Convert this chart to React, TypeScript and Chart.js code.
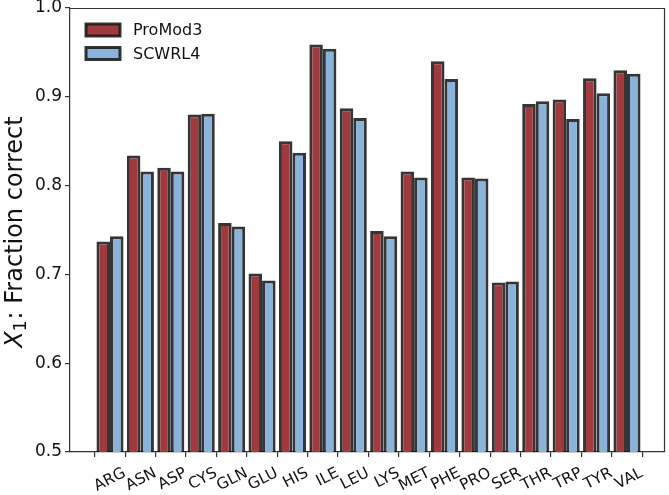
import React, { useEffect, useRef } from "react";
import { Chart, registerables } from "chart.js";

Chart.register(...registerables);

const categories = ["ARG", "ASN", "ASP", "CYS", "GLN", "GLU", "HIS", "ILE", "LEU", "LYS", "MET", "PHE", "PRO", "SER", "THR", "TRP", "TYR", "VAL"];
const promod3 = [0.737, 0.834, 0.820, 0.880, 0.758, 0.701, 0.850, 0.959, 0.887, 0.749, 0.816, 0.940, 0.809, 0.691, 0.892, 0.897, 0.921, 0.930];
const scwrl4 = [0.743, 0.816, 0.816, 0.881, 0.754, 0.693, 0.837, 0.954, 0.876, 0.743, 0.809, 0.920, 0.808, 0.692, 0.895, 0.875, 0.904, 0.926];
const seriesNames = ["ProMod3", "SCWRL4"];
const seriesColors = ["#a13a3e", "#8ab3dc"];
const yTicks = [0.5, 0.6, 0.7, 0.8, 0.9, 1.0];
const yTitleParts = ["X", "1", ": Fraction correct"];

const EDGE = "rgba(25,25,25,0.88)";
const FONT = '"DejaVu Sans", sans-serif';

const decorPlugin = {
  id: "decor",
  afterDraw(chart: any) {
    const { ctx, chartArea } = chart;
    const { left, right, top, bottom } = chartArea;
    ctx.save();
    // top & right spines
    ctx.strokeStyle = "#333";
    ctx.lineWidth = 1.2;
    ctx.beginPath();
    ctx.moveTo(left, top + 0.5);
    ctx.lineTo(right - 0.5, top + 0.5);
    ctx.lineTo(right - 0.5, bottom);
    ctx.stroke();

    // legend
    seriesNames.forEach((name, i) => {
      const bx = left + 16;
      const by = top + 16 + i * 23.5;
      ctx.fillStyle = seriesColors[i];
      ctx.fillRect(bx, by, 34, 12);
      ctx.strokeStyle = EDGE;
      ctx.lineWidth = 3;
      ctx.strokeRect(bx, by, 34, 12);
      ctx.fillStyle = "#111";
      ctx.font = `16px ${FONT}`;
      ctx.textBaseline = "middle";
      ctx.textAlign = "left";
      ctx.fillText(name, left + 63, by + 7);
    });

    // y title
    const cy = (top + bottom) / 2 + 2;
    const size = 24;
    ctx.translate(21.5, cy);
    ctx.rotate(-Math.PI / 2);
    ctx.textBaseline = "alphabetic";
    ctx.textAlign = "left";
    ctx.fillStyle = "#111";
    const fMain = `${size}px ${FONT}`;
    const fItal = `italic ${size}px ${FONT}`;
    const fSub = `${Math.round(size * 0.7)}px ${FONT}`;
    ctx.font = fItal;
    const w0 = ctx.measureText(yTitleParts[0]).width;
    ctx.font = fSub;
    const w1 = ctx.measureText(yTitleParts[1]).width;
    ctx.font = fMain;
    const w2 = ctx.measureText(yTitleParts[2]).width;
    const total = w0 + w1 + w2 + 1;
    let x = -total / 2;
    ctx.font = fItal;
    ctx.fillText(yTitleParts[0], x, 0);
    x += w0;
    ctx.font = fSub;
    ctx.fillText(yTitleParts[1], x, size * 0.2);
    x += w1 + 1;
    ctx.font = fMain;
    ctx.fillText(yTitleParts[2], x, 0);
    ctx.restore();
  },
};

export default function App() {
  const ref = useRef<HTMLCanvasElement | null>(null);
  useEffect(() => {
    if (!ref.current) return;
    const chart = new Chart(ref.current, {
      type: "bar",
      data: {
        datasets: [
          {
            label: seriesNames[0],
            data: promod3.map((v, i) => ({ x: i, y: v })),
            backgroundColor: seriesColors[0],
            borderColor: EDGE,
            borderWidth: 3,
            borderSkipped: "start",
          },
          {
            label: seriesNames[1],
            data: scwrl4.map((v, i) => ({ x: i, y: v })),
            backgroundColor: seriesColors[1],
            borderColor: EDGE,
            borderWidth: 3,
            borderSkipped: "start",
          },
        ],
      },
      options: {
        animation: false,
        responsive: false,
        devicePixelRatio: 1,
        categoryPercentage: 0.89,
        barPercentage: 1.0,
        layout: { padding: { top: 8, right: 4, left: 0, bottom: 0 } },
        plugins: {
          legend: { display: false },
          tooltip: { enabled: false },
          title: { display: false },
        },
        scales: {
          x: {
            type: "linear",
            min: -1.315,
            max: 18.25,
            offset: false,
            afterFit: (s: any) => {
              s.height = 43;
              s.paddingLeft = 0;
              s.paddingRight = 0;
            },
            afterBuildTicks: (s: any) => {
              s.ticks = categories.map((_, i) => ({ value: i }));
            },
            grid: { drawOnChartArea: false, drawTicks: true, tickLength: 5, color: "#333", lineWidth: 1.2 },
            border: { display: true, color: "#333", width: 1.2 },
            ticks: {
              autoSkip: false,
              minRotation: 27,
              maxRotation: 27,
              labelOffset: 15,
              padding: 7,
              color: "#111",
              font: { family: FONT, size: 15.5 },
              callback: (v: any) => categories[Math.round(Number(v))] ?? "",
            },
          },
          y: {
            type: "linear",
            min: 0.5,
            max: 1.0,
            afterFit: (s: any) => {
              s.width = 70;
              s.paddingTop = 0;
              s.paddingBottom = 0;
            },
            afterBuildTicks: (s: any) => {
              s.ticks = yTicks.map((v) => ({ value: v }));
            },
            grid: { drawOnChartArea: false, drawTicks: true, tickLength: 5, color: "#333", lineWidth: 1.2 },
            border: { display: true, color: "#333", width: 1.2 },
            ticks: {
              padding: 3,
              color: "#111",
              font: { family: FONT, size: 17 },
              callback: (v: any) => Number(v).toFixed(1),
            },
          },
        },
      },
      plugins: [decorPlugin],
    });
    return () => chart.destroy();
  }, []);
  return (
    <div style={{ position: "absolute", left: 0, top: 0, width: 669, height: 495 }}>
      <canvas ref={ref} width={669} height={495} style={{ display: "block" }} />
    </div>
  );
}
